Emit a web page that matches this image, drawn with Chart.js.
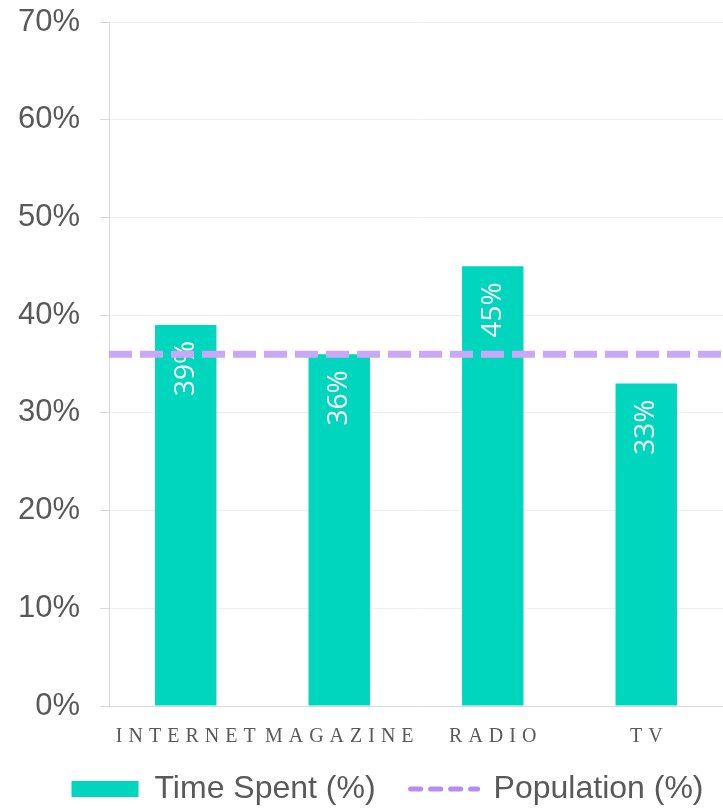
<!DOCTYPE html>
<html>
<head>
<meta charset="utf-8">
<script src="https://cdn.jsdelivr.net/npm/chart.js@4/dist/chart.umd.min.js"></script>
<style>
  html, body { margin: 0; padding: 0; background: #fff; }
  #wrap { width: 723px; height: 808px; position: relative; }
</style>
</head>
<body>
<div id="wrap"><canvas id="c"></canvas></div>
<script>
const categories = ['INTERNET', 'MAGAZINE', 'RADIO', 'TV'];
const timeSpent = [39, 36, 45, 33];
const populationValue = 36;
const yTicks = [0, 10, 20, 30, 40, 50, 60, 70];

const barColor = '#00D5BD';
const lineColor = '#C9A9F7';
const legendLineColor = '#B68CF1';
const textGray = '#595959';

const customDraw = {
  id: 'customDraw',
  afterLayout(chart) {
    if (chart.legend) { chart.legend.left += 26; chart.legend.right += 26; }
  },
  afterDatasetDraw(chart, args) {
    if (args.index !== 0) return;
    const ctx = chart.ctx;
    const meta = chart.getDatasetMeta(0);
    ctx.save();
    ctx.fillStyle = '#ffffff';
    ctx.font = '500 28px "Open Sans"';
    meta.data.forEach((bar, i) => {
      ctx.save();
      ctx.translate(bar.x, bar.y + 16);
      ctx.rotate(-Math.PI / 2);
      ctx.textAlign = 'right';
      ctx.textBaseline = 'middle';
      ctx.fillText(timeSpent[i] + '%', 0, 0);
      ctx.restore();
    });
    ctx.restore();
  },
  afterDraw(chart) {
    const ctx = chart.ctx;
    const xs = chart.scales.x;
    ctx.save();
    ctx.fillStyle = textGray;
    ctx.font = '20px "Liberation Serif"';
    ctx.letterSpacing = '6px';
    ctx.textAlign = 'center';
    ctx.textBaseline = 'middle';
    categories.forEach((c, i) => {
      ctx.fillText(c, xs.getPixelForValue(i) + 3, xs.top + 31);
    });
    ctx.restore();
  }
};

new Chart(document.getElementById('c'), {
  type: 'bar',
  data: {
    labels: categories,
    datasets: [
      {
        type: 'bar',
        label: 'Time Spent (%)',
        data: timeSpent,
        backgroundColor: barColor,
        borderWidth: 0,
        grouped: false,
        barPercentage: 0.8,
        categoryPercentage: 0.5,
        order: 1
      },
      {
        type: 'line',
        label: 'Population (%)',
        data: [{ x: 0, y: populationValue }, { x: 1, y: populationValue }],
        xAxisID: 'x2',
        borderColor: lineColor,
        backgroundColor: 'transparent',
        borderWidth: 7,
        borderDash: [23, 8],
        pointRadius: 0,
        fill: false,
        order: 0
      }
    ]
  },
  options: {
    responsive: true,
    maintainAspectRatio: false,
    animation: false,
    layout: { padding: { top: 0, right: 0, left: 0, bottom: -7 } },
    plugins: {
      tooltip: { enabled: false },
      legend: {
        position: 'bottom',
        labels: {
          usePointStyle: true,
          pointStyleWidth: 67,
          boxHeight: 16,
          padding: 35,
          color: textGray,
          font: { family: '"Liberation Sans", Arial', size: 32 },
          generateLabels(chart) {
            return [
              {
                text: 'Time Spent (%)', datasetIndex: 0,
                fillStyle: barColor, strokeStyle: barColor, lineWidth: 0,
                pointStyle: 'rect', fontColor: textGray
              },
              {
                text: 'Population (%)', datasetIndex: 1,
                fillStyle: 'transparent', strokeStyle: legendLineColor, lineWidth: 5,
                lineDash: [10, 10], lineCap: 'round',
                pointStyle: 'line', fontColor: textGray
              }
            ];
          }
        }
      }
    },
    scales: {
      x: {
        type: 'category',
        offset: true,
        grid: { display: false },
        border: { display: true, color: '#d9d9d9' },
        ticks: { display: false },
        afterFit(s) { s.height = 32; }
      },
      x2: {
        type: 'linear',
        display: false,
        offset: false,
        min: 0,
        max: 1
      },
      y: {
        min: 0,
        max: 70,
        afterBuildTicks(s) { s.ticks = yTicks.map(v => ({ value: v })); },
        grid: { color: '#eeeeee', tickLength: 9, tickColor: '#d9d9d9' },
        border: { color: '#d9d9d9' },
        ticks: {
          padding: 20,
          color: textGray,
          font: { family: '"Liberation Sans", Arial', size: 31 },
          callback: v => v + '%'
        },
        afterFit(s) { s.width = 109; s.paddingTop = 22; s.paddingBottom = 0; }
      }
    }
  },
  plugins: [customDraw]
});
</script>
</body>
</html>
